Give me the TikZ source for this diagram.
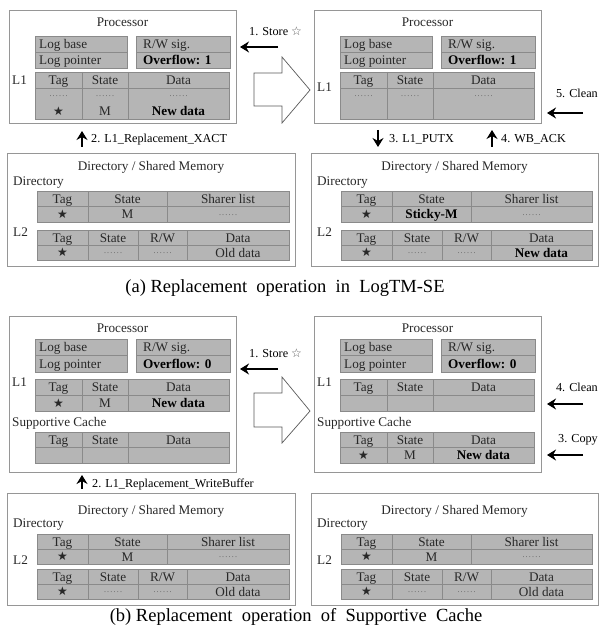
\documentclass[tikz,border=0pt]{standalone}
\usepackage{fontspec}
\setmainfont{Liberation Serif}
\newfontfamily\symf{DejaVu Sans}
\usetikzlibrary{arrows.meta}
\definecolor{cellfill}{RGB}{181,181,181}
\definecolor{cellline}{RGB}{138,138,138}
\definecolor{panelline}{RGB}{150,150,150}
\definecolor{txtcol}{RGB}{40,40,40}
\definecolor{dotcol}{RGB}{90,90,90}
\definecolor{hollowline}{RGB}{90,90,90}
\tikzset{
 panel/.style={draw=panelline,line width=0.7pt,fill=white},
 cellbox/.style={draw=cellline,fill=cellfill,line width=0.9pt},
 gridline/.style={draw=cellline,line width=0.9pt},
 txt/.style={font=\fontsize{13.2}{14}\selectfont,text=txtcol,inner sep=0pt},
 btxt/.style={font=\fontsize{13.2}{14}\selectfont\bfseries,text=black,inner sep=0pt},
 lbl/.style={font=\fontsize{12.2}{13}\selectfont,inner sep=0pt},
 captxt/.style={font=\fontsize{18.5}{20}\selectfont,inner sep=0pt},
 arr/.style={line width=2.2pt,-{Stealth[length=9pt,width=11pt,inset=3pt]}},
 hollow/.style={draw=hollowline,line width=0.7pt,fill=white,line join=miter},
}
\newcommand\dotrow{{\color{dotcol}\fontsize{8}{8}\selectfont .\kern1.2pt.\kern1.2pt.\kern1.2pt.\kern1.2pt.\kern1.2pt.}}
\newcommand\blkstar{{\symf\fontsize{12}{12}\selectfont\color{txtcol}★}}
\newcommand\wst{{\symf\fontsize{12}{12}\selectfont\color{dotcol}☆}}
\newcommand\wsp{\hspace{0.25em}}
% Log base / R/W boxes: #1 name, #2 top, #3 bottom, #4 overflow
\newcommand\logboxes[4]{%
 \draw[cellbox] (26,#2) rectangle (118,#3);
 \draw[cellbox] (127,#2) rectangle (221,#3);
 \draw[gridline] (26,{(#2+#3)/2}) -- (118,{(#2+#3)/2}) (127,{(#2+#3)/2}) -- (221,{(#2+#3)/2});
 \node[txt,anchor=base west] (#1-lb) at (30,{#2+(#3-#2)/4+4.6}) {Log base};
 \node[txt,anchor=base west] (#1-lp) at (30,{#2+3*(#3-#2)/4+4.6}) {Log pointer};
 \node[txt,anchor=base west] (#1-rw) at (134,{#2+(#3-#2)/4+4.6}) {R/W sig.};
 \node[btxt,anchor=base west] (#1-of) at (134,{#2+3*(#3-#2)/4+4.6}) {Overflow: #4};
}
% three-column table: #1 name, #2 top, #3 mid, #4 bottom
\newcommand\threecol[4]{%
 \draw[cellbox] (26,#2) rectangle (220,#4);
 \draw[gridline] (26,#3) -- (220,#3) (73,#2) -- (73,#4) (119,#2) -- (119,#4);
 \node[txt,anchor=base] (#1-h1) at (49.5,{(#2+#3)/2+4.6}) {Tag};
 \node[txt,anchor=base] (#1-h2) at (96,{(#2+#3)/2+4.6}) {State};
 \node[txt,anchor=base] (#1-h3) at (169.5,{(#2+#3)/2+4.6}) {Data};
}
% Processor (a): #1 name, #2 x, #3 y, #4 #5 #6 row3 cells, #7 L1 label y
\newcommand\procA[7]{%
\begin{scope}[shift={(#2,#3)}]
 \draw[panel] (0,0) rectangle (227,113);
 \node[txt,anchor=base] (#1-t) at (113.5,16.6) {Processor};
 \logboxes{#1}{26}{58}{1}
 \node[txt,anchor=base west] (#1-l1) at (3,{#7+4.6}) {L1};
 \draw[cellbox] (26,62) rectangle (220,109);
 \draw[gridline] (26,93.5) -- (220,93.5);
 \threecol{#1}{62}{78}{109}
 \node[anchor=base,inner sep=0pt] (#1-d1) at (49.5,86.5) {\dotrow};
 \node[anchor=base,inner sep=0pt] (#1-d2) at (96,86.5) {\dotrow};
 \node[anchor=base,inner sep=0pt] (#1-d3) at (169.5,86.5) {\dotrow};
 \node[inner sep=0pt] (#1-r1) at (49.5,101.3) {#4};
 \node[txt,anchor=base] (#1-r2) at (96,105.9) {#5};
 \node[btxt,anchor=base] (#1-r3) at (169.5,105.9) {#6};
\end{scope}}
% Processor (b): #1 name, #2 x, #3 y, #4 #5 #6 L1 row2 cells, #7 #8 #9 SC row2 cells
\newcommand\procB[9]{%
\begin{scope}[shift={(#2,#3)}]
 \draw[panel] (0,0) rectangle (227,156);
 \node[txt,anchor=base] (#1-t) at (113.5,16.6) {Processor};
 \logboxes{#1}{23}{56}{0}
 \node[txt,anchor=base west] (#1-l1) at (3,{66+4.6}) {L1};
 \threecol{#1}{63}{79}{95}
 \node[inner sep=0pt] (#1-r1) at (49.5,87) {#4};
 \node[txt,anchor=base] (#1-r2) at (96,91.6) {#5};
 \node[btxt,anchor=base] (#1-r3) at (169.5,91.6) {#6};
 \node[txt,anchor=base west] (#1-sc) at (3,{106+4.6}) {Supportive Cache};
 \threecol{#1-s}{116}{131.5}{147}
 \node[inner sep=0pt] (#1-s1) at (49.5,139.3) {#7};
 \node[txt,anchor=base] (#1-s2) at (96,143.9) {#8};
 \node[btxt,anchor=base] (#1-s3) at (169.5,143.9) {#9};
\end{scope}}
% Directory panel: #1 name, #2 x, #3 y, #4 width, #5 height, #6 state cell, #7 data cell
\newcommand\dirpanel[7]{%
\begin{scope}[shift={(#2,#3)}]
 \draw[panel] (0,0) rectangle (#4,#5);
 \node[txt,anchor=base] (#1-t) at ({#4/2},{\dTitle+4.6}) {Directory / Shared Memory};
 \node[txt,anchor=base west] (#1-d) at (6,{\dDir+4.6}) {Directory};
 \draw[cellbox] (30,\dTa) rectangle ({#4-6},\dTb);
 \draw[gridline] (30,{(\dTa+\dTb)/2}) -- ({#4-6},{(\dTa+\dTb)/2}) (81,\dTa) -- (81,\dTb) (160,\dTa) -- (160,\dTb);
 \node[txt,anchor=base] (#1-h1) at (55.5,{\dTa+(\dTb-\dTa)/4+4.6}) {Tag};
 \node[txt,anchor=base] (#1-h2) at (120.5,{\dTa+(\dTb-\dTa)/4+4.6}) {State};
 \node[txt,anchor=base] (#1-h3) at ({(160+#4-6)/2},{\dTa+(\dTb-\dTa)/4+4.6}) {Sharer list};
 \node[inner sep=0pt] (#1-r1) at (55.5,{\dTa+3*(\dTb-\dTa)/4}) {\blkstar};
 \node[anchor=base,inner sep=0pt] (#1-r2) at (120.5,{\dTa+3*(\dTb-\dTa)/4+4.6}) {#6};
 \node[anchor=base,inner sep=0pt] (#1-r3) at ({(160+#4-6)/2},{\dTa+3*(\dTb-\dTa)/4+1}) {\dotrow};
 \node[txt,anchor=base west] (#1-l2) at (6,{\dLlab+4.6}) {L2};
 \draw[cellbox] (30,\dLa) rectangle ({#4-6},\dLb);
 \draw[gridline] (30,{(\dLa+\dLb)/2}) -- ({#4-6},{(\dLa+\dLb)/2}) (81,\dLa) -- (81,\dLb) (131,\dLa) -- (131,\dLb) (180,\dLa) -- (180,\dLb);
 \node[txt,anchor=base] (#1-g1) at (55.5,{\dLa+(\dLb-\dLa)/4+4.6}) {Tag};
 \node[txt,anchor=base] (#1-g2) at (106,{\dLa+(\dLb-\dLa)/4+4.6}) {State};
 \node[txt,anchor=base] (#1-g3) at (155.5,{\dLa+(\dLb-\dLa)/4+4.6}) {R/W};
 \node[txt,anchor=base] (#1-g4) at ({(180+#4-6)/2},{\dLa+(\dLb-\dLa)/4+4.6}) {Data};
 \node[inner sep=0pt] (#1-k1) at (55.5,{\dLa+3*(\dLb-\dLa)/4}) {\blkstar};
 \node[anchor=base,inner sep=0pt] (#1-k2) at (106,{\dLa+3*(\dLb-\dLa)/4+1}) {\dotrow};
 \node[anchor=base,inner sep=0pt] (#1-k3) at (155.5,{\dLa+3*(\dLb-\dLa)/4+1}) {\dotrow};
 \node[anchor=base,inner sep=0pt] (#1-k4) at ({(180+#4-6)/2},{\dLa+3*(\dLb-\dLa)/4+4.6}) {#7};
\end{scope}}
\begin{document}
\begin{tikzpicture}[x=1pt,y=-1pt]
\useasboundingbox[fill=white] (0,0) rectangle (599,631);
% ===== (a) =====
\procA{pa}{9}{10}{\blkstar}{M}{New data}{70}
\procA{pb}{314}{10}{}{}{}{77}
\def\dTitle{13}\def\dDir{28}\def\dTa{38}\def\dTb{69}\def\dLlab{79}\def\dLa{77}\def\dLb{107}
\dirpanel{da}{7}{153}{288}{113}{\fontsize{13.2}{14}\selectfont\color{txtcol}M}{\fontsize{13.2}{14}\selectfont\color{txtcol}Old data}
\dirpanel{db}{311}{153}{287}{113}{\fontsize{13.2}{14}\selectfont\bfseries Sticky-M}{\fontsize{13.2}{14}\selectfont\bfseries New data}
\draw[hollow] (254,73) -- (282,73) -- (282,57) -- (310,90) -- (282,123) -- (282,106) -- (254,106) -- cycle;
\coordinate (s1s) at (278,47); \coordinate (s1e) at (240,47);
\draw[arr] (s1s) -- (s1e);
\node[lbl,anchor=base west] (s1l) at (249,36) {1. Store \wst};
\coordinate (a2s) at (82,147); \coordinate (a2e) at (82,131);
\draw[arr] (a2s) -- (a2e);
\node[lbl,anchor=base west] (a2l) at (91,143) {2. L1\_Replacement\_XACT};
\coordinate (a3s) at (378,130); \coordinate (a3e) at (378,147);
\draw[arr] (a3s) -- (a3e);
\node[lbl,anchor=base west] (a3l) at (389,143) {3. L1\_PUTX};
\coordinate (a4s) at (492,147); \coordinate (a4e) at (492,130);
\draw[arr] (a4s) -- (a4e);
\node[lbl,anchor=base west] (a4l) at (501,143) {4. WB\_ACK};
\coordinate (a5s) at (583,113); \coordinate (a5e) at (547,113);
\draw[arr] (a5s) -- (a5e);
\node[lbl,anchor=base east] (a5l) at (598,98) {5. Clean};
\node[captxt,anchor=base] (capa) at (285,292) {(a) Replacement\wsp{} operation\wsp{} in\wsp{} LogTM-SE};
% ===== (b) =====
\procB{pc}{9}{316}{\blkstar}{M}{New data}{}{}{}
\procB{pd}{314}{316}{}{}{}{\blkstar}{M}{New data}
\def\dTitle{17}\def\dDir{30}\def\dTa{41}\def\dTb{71}\def\dLlab{67}\def\dLa{76}\def\dLb{106}
\dirpanel{dc}{7}{493}{288}{112}{\fontsize{13.2}{14}\selectfont\color{txtcol}M}{\fontsize{13.2}{14}\selectfont\color{txtcol}Old data}
\dirpanel{dd}{311}{493}{287}{112}{\fontsize{13.2}{14}\selectfont\color{txtcol}M}{\fontsize{13.2}{14}\selectfont\color{txtcol}Old data}
\draw[hollow] (254,393) -- (282,393) -- (282,377) -- (310,411) -- (282,443) -- (282,427) -- (254,427) -- cycle;
\coordinate (b1s) at (278,369); \coordinate (b1e) at (240,369);
\draw[arr] (b1s) -- (b1e);
\node[lbl,anchor=base west] (b1l) at (249,357) {1. Store \wst};
\coordinate (b2s) at (82,489); \coordinate (b2e) at (82,475);
\draw[arr] (b2s) -- (b2e);
\node[lbl,anchor=base west] (b2l) at (92,487) {2. L1\_Replacement\_WriteBuffer};
\coordinate (b4s) at (583,404); \coordinate (b4e) at (547,404);
\draw[arr] (b4s) -- (b4e);
\node[lbl,anchor=base east] (b4l) at (598,391) {4. Clean};
\coordinate (b3s) at (583,455); \coordinate (b3e) at (547,455);
\draw[arr] (b3s) -- (b3e);
\node[lbl,anchor=base east] (b3l) at (598,442) {3. Copy};
\node[captxt,anchor=base] (capb) at (296,621) {(b) Replacement\wsp{} operation\wsp{} of\wsp{} Supportive\wsp{} Cache};
\end{tikzpicture}
\end{document}
